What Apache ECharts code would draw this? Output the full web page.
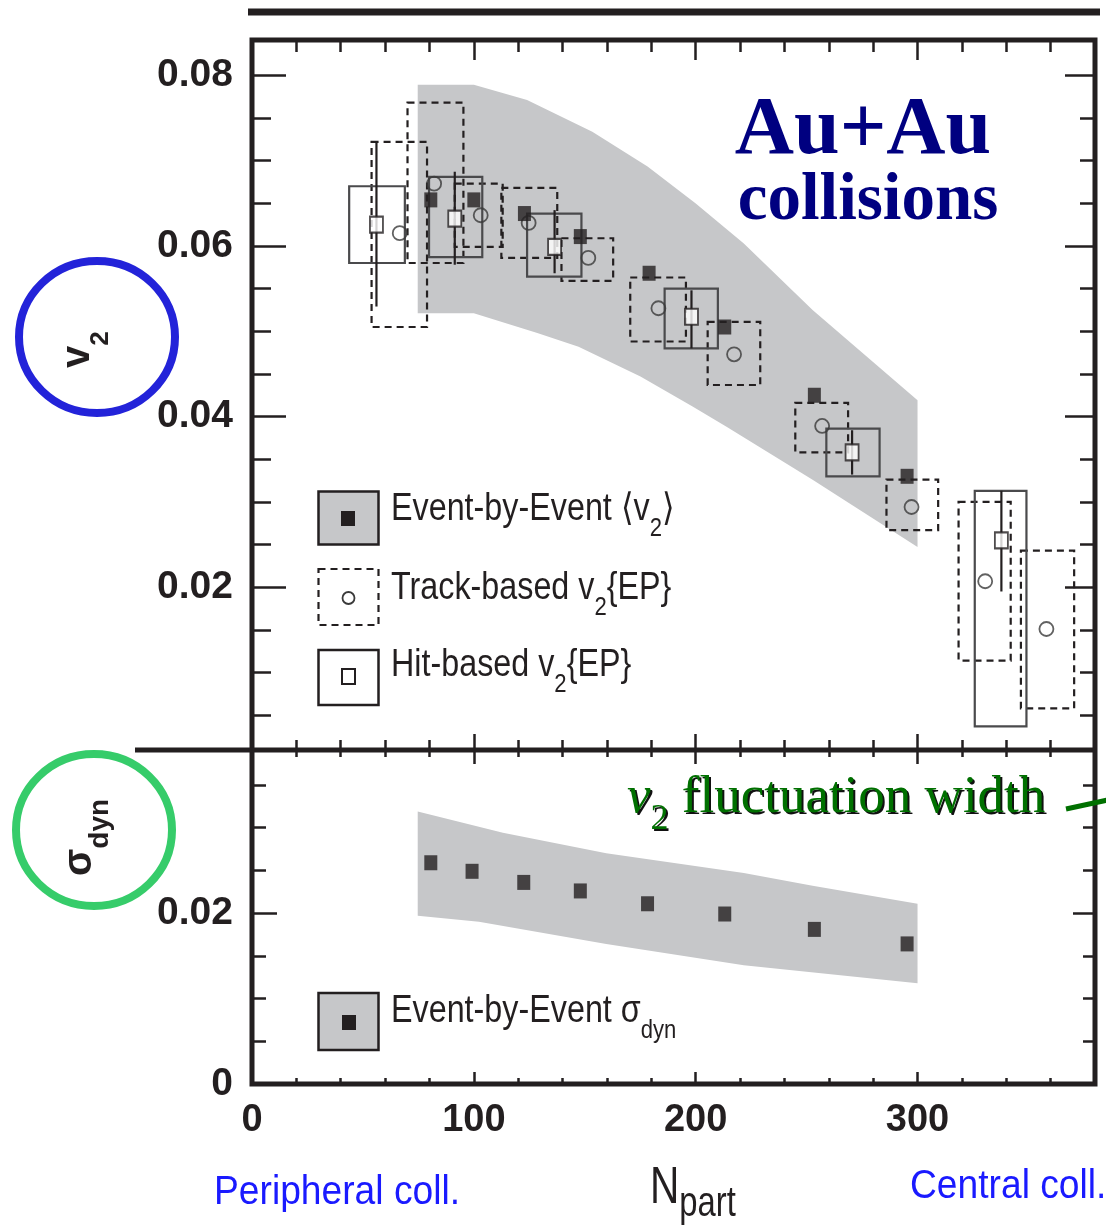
<!DOCTYPE html>
<html>
<head>
<meta charset="utf-8">
<title>v2 and sigma_dyn vs Npart</title>
<script src="https://cdn.jsdelivr.net/npm/echarts@6/dist/echarts.min.js"></script>
<style>
  html, body { margin: 0; padding: 0; background: #fff; }
  #main { width: 1106px; height: 1228px; }
</style>
</head>
<body>
<div id="main"></div>
<script>
// ---- axes ----
const xMin = 0, xMax = 380;
const nTickLabels = ['0', '100', '200', '300'];
const v2Min = 0.00092, v2Max = 0.08414;
const v2TickLabels = ['0.02', '0.04', '0.06', '0.08'];
const sgMin = 0, sgMax = 0.0391;
const sgTickLabels = ['0', '0.02'];

// ---- Event-by-Event <v2> ----
const ebeN  = [80.6, 100.0, 122.8, 148.0, 179.0, 213.1, 253.5, 295.3];
const ebeV2 = [0.0654, 0.0654, 0.0638, 0.0611, 0.0568, 0.0505, 0.0425, 0.0330];
// systematic band of <v2>: upper and lower edge
const bandUpN = [74.7, 100.0, 124.0, 153.4, 178.3, 199.9, 221.7, 252.7, 300.0];
const bandUpV = [0.0789, 0.0789, 0.0771, 0.0734, 0.0693, 0.0650, 0.0603, 0.0525, 0.0419];
const bandLoN = [74.7, 100.0, 128.6, 147.2, 175.1, 198.4, 213.9, 252.7, 300.0];
const bandLoV = [0.0521, 0.0521, 0.0498, 0.0482, 0.0447, 0.0412, 0.0388, 0.0326, 0.0247];

// ---- Track-based v2{EP} ----
const trackN     = [66.6, 82.1, 103.1, 124.7, 151.6, 183.2, 217.3, 257.0, 297.3, 330.5, 358.1];
const trackV2    = [0.0615, 0.0673, 0.0636, 0.0627, 0.0586, 0.0527, 0.0473, 0.0389, 0.0294, 0.0207, 0.0151];
const trackNLo   = [53.9, 70.1, 91.4, 112.4, 139.5, 170.5, 205.4, 244.9, 286.0, 318.5, 346.6];
const trackNHi   = [78.9, 95.3, 113.0, 137.6, 162.8, 195.6, 229.1, 268.7, 309.3, 342.0, 370.6];
const trackSysHi = [0.0722, 0.0768, 0.0673, 0.0668, 0.0609, 0.0563, 0.0511, 0.0416, 0.0326, 0.0300, 0.0243];
const trackSysLo = [0.0505, 0.0580, 0.0599, 0.0586, 0.0559, 0.0488, 0.0437, 0.0358, 0.0267, 0.0114, 0.0058];

// ---- Hit-based v2{EP} ----
const hitN     = [56.1, 91.4, 136.4, 198.1, 270.5, 337.8];
const hitV2    = [0.0625, 0.0632, 0.0599, 0.0517, 0.0358, 0.0255];
const hitErrHi = [0.0722, 0.0687, 0.0642, 0.0548, 0.0384, 0.0313];
const hitErrLo = [0.0529, 0.0578, 0.0568, 0.0480, 0.0332, 0.0195];
const hitNLo   = [43.8, 79.8, 124.0, 186.0, 258.9, 325.8];
const hitNHi   = [68.9, 103.8, 148.5, 210.0, 282.9, 349.1];
const hitSysHi = [0.0670, 0.0681, 0.0638, 0.0550, 0.0386, 0.0313];
const hitSysLo = [0.0580, 0.0587, 0.0564, 0.0480, 0.0330, 0.0037];

// ---- Event-by-Event sigma_dyn ----
const sigN   = [80.6, 99.2, 122.5, 148.0, 178.3, 213.1, 253.5, 295.3];
const sigDyn = [0.0259, 0.0249, 0.0236, 0.0226, 0.0211, 0.0199, 0.0181, 0.0164];
const sigBandUpN = [74.7, 113.1, 159.7, 221.7, 252.7, 300.0];
const sigBandUpV = [0.0319, 0.0294, 0.0270, 0.0247, 0.0232, 0.0211];
const sigBandLoN = [74.7, 102.3, 159.7, 221.7, 300.0];
const sigBandLoV = [0.0197, 0.0190, 0.0164, 0.0139, 0.0118];

// ---- layout ----
const L = 252, R = 1095, T = 40, MID = 750, B = 1084;
const FG = '#231f20';
const BAND = '#c6c7c9';
const SANS = '"Liberation Sans", Arial, sans-serif';
const SERIF = '"Liberation Serif", "Times New Roman", serif';

const chart = echarts.init(document.getElementById('main'));

function fmtVal(v) {
  if (Math.abs(v) < 1e-9) return '0';
  if (Math.abs(v) >= 1) return String(Math.round(v));
  return v.toFixed(2);
}
function labelFrom(list) {
  return v => { const s = fmtVal(v); return list.includes(s) ? s : ''; };
}

function xAx(grid, pos, step, len, labels) {
  return {
    type: 'value', gridIndex: grid, position: pos, min: xMin, max: xMax, interval: step,
    axisLine: { show: false, onZero: false },
    axisTick: { inside: true, length: len, lineStyle: { color: FG, width: 2.5 } },
    axisLabel: labels ? { show: true, margin: 18, formatter: labelFrom(labels), color: FG,
      fontSize: 38, fontWeight: 'bold', fontFamily: SANS } : { show: false },
    splitLine: { show: false }
  };
}
function yAx(grid, pos, min, max, step, len, labels) {
  return {
    type: 'value', gridIndex: grid, position: pos, min: min, max: max,
    minInterval: step, maxInterval: step, splitNumber: Math.round((max - min) / step),
    axisLine: { show: false, onZero: false },
    axisTick: { inside: true, length: len, lineStyle: { color: FG, width: 2.5 } },
    axisLabel: labels ? { show: true, margin: 19, formatter: labelFrom(labels), color: FG,
      fontSize: 39, fontWeight: 'bold', fontFamily: SANS } : { show: false },
    splitLine: { show: false }
  };
}

function bandRender(upN, upV, loN, loV) {
  return function (params, api) {
    if (params.dataIndex !== 0) return;
    const pts = [];
    for (let i = 0; i < upN.length; i++) pts.push(api.coord([upN[i], upV[i]]));
    for (let i = loN.length - 1; i >= 0; i--) pts.push(api.coord([loN[i], loV[i]]));
    return { type: 'polygon', shape: { points: pts }, style: { fill: BAND } };
  };
}
function boxRender(color, dash) {
  return function (params, api) {
    const a = api.coord([api.value(0), api.value(3)]);
    const b = api.coord([api.value(1), api.value(2)]);
    return { type: 'rect', shape: { x: a[0], y: a[1], width: b[0] - a[0], height: b[1] - a[1] },
      style: { fill: 'none', stroke: color, lineWidth: 2.2, lineDash: dash } };
  };
}
function errRender(params, api) {
  const a = api.coord([api.value(0), api.value(1)]);
  const b = api.coord([api.value(0), api.value(2)]);
  return { type: 'line', shape: { x1: a[0], y1: a[1], x2: b[0], y2: b[1] },
    style: { stroke: FG, lineWidth: 2.2 } };
}

const sub = (size, pad, extra) => Object.assign({ fontSize: size, lineHeight: size, padding: [pad, 0, 0, 0],
  verticalAlign: 'top', fontFamily: SANS, fill: FG }, extra || {});
const main = (size, extra) => Object.assign({ fontSize: size, lineHeight: size, verticalAlign: 'top',
  fontFamily: SANS, fill: FG }, extra || {});

// legend label: main text and subscript centred on one line, baseline given
function legendText(baseline, text) {
  return { type: 'text', x: 391, y: baseline - 13.3, scaleX: 0.85, z: 20,
    style: { text: text, textVerticalAlign: 'middle', fontSize: 38, lineHeight: 38,
      fontFamily: SANS, fill: FG,
      rich: { m: { fontSize: 38, lineHeight: 38, fontFamily: SANS, fill: FG },
              s: { fontSize: 26, lineHeight: 26, padding: [38, 0, 0, 0], fontFamily: SANS, fill: FG } } } };
}

const option = {
  animation: false,
  backgroundColor: '#fff',
  grid: [
    { left: L, top: T, width: R - L, height: MID - T },
    { left: L, top: MID, width: R - L, height: B - MID }
  ],
  xAxis: [
    xAx(0, 'bottom', 100, 16), xAx(0, 'bottom', 20, 10),
    xAx(0, 'top', 100, 20), xAx(0, 'top', 20, 12),
    xAx(1, 'bottom', 100, 12, nTickLabels), xAx(1, 'bottom', 20, 6),
    xAx(1, 'top', 100, 14), xAx(1, 'top', 20, 7)
  ],
  yAxis: [
    yAx(0, 'left', v2Min, v2Max, 0.02, 34, v2TickLabels), yAx(0, 'left', v2Min, v2Max, 0.005, 19),
    yAx(0, 'right', v2Min, v2Max, 0.02, 30), yAx(0, 'right', v2Min, v2Max, 0.005, 15),
    yAx(1, 'left', sgMin, sgMax, 0.02, 25, sgTickLabels), yAx(1, 'left', sgMin, sgMax, 0.005, 14),
    yAx(1, 'right', sgMin, sgMax, 0.02, 22), yAx(1, 'right', sgMin, sgMax, 0.005, 12)
  ],
  series: [
    { type: 'custom', xAxisIndex: 0, yAxisIndex: 0, z: 1,
      renderItem: bandRender(bandUpN, bandUpV, bandLoN, bandLoV), data: [[bandUpN[0], bandUpV[0]]] },
    { type: 'custom', xAxisIndex: 0, yAxisIndex: 0, z: 3, renderItem: boxRender(FG, [7, 5]),
      encode: { x: [0, 1], y: [2, 3] },
      data: trackN.map((n, i) => [trackNLo[i], trackNHi[i], trackSysLo[i], trackSysHi[i]]) },
    { type: 'custom', xAxisIndex: 0, yAxisIndex: 0, z: 3, renderItem: boxRender('#4a4a4c', null),
      encode: { x: [0, 1], y: [2, 3] },
      data: hitN.map((n, i) => [hitNLo[i], hitNHi[i], hitSysLo[i], hitSysHi[i]]) },
    { type: 'custom', xAxisIndex: 0, yAxisIndex: 0, z: 4, renderItem: errRender,
      encode: { x: 0, y: [1, 2] },
      data: hitN.map((n, i) => [n, hitErrLo[i], hitErrHi[i]]) },
    { type: 'scatter', xAxisIndex: 0, yAxisIndex: 0, z: 5, symbol: 'circle', symbolSize: 14,
      itemStyle: { color: 'rgba(0,0,0,0)', borderColor: '#3a3a3a', borderWidth: 1.8 },
      data: trackN.map((n, i) => [n, trackV2[i]]) },
    { type: 'scatter', xAxisIndex: 0, yAxisIndex: 0, z: 6, symbol: 'rect', symbolSize: [13, 16],
      itemStyle: { color: '#fff', borderColor: FG, borderWidth: 2 },
      data: hitN.map((n, i) => [n, hitV2[i]]) },
    { type: 'scatter', xAxisIndex: 0, yAxisIndex: 0, z: 7, symbol: 'rect', symbolSize: [13, 15],
      itemStyle: { color: FG },
      data: ebeN.map((n, i) => [n, ebeV2[i]]) },
    { type: 'custom', xAxisIndex: 4, yAxisIndex: 4, z: 1,
      renderItem: bandRender(sigBandUpN, sigBandUpV, sigBandLoN, sigBandLoV), data: [[sigBandUpN[0], sigBandUpV[0]]] },
    { type: 'scatter', xAxisIndex: 4, yAxisIndex: 4, z: 7, symbol: 'rect', symbolSize: [13, 15],
      itemStyle: { color: FG },
      data: sigN.map((n, i) => [n, sigDyn[i]]) }
  ],
  graphic: { elements: [
    // frame and separators
    { type: 'rect', z: 10, shape: { x: L, y: T, width: R - L, height: B - T },
      style: { fill: 'none', stroke: FG, lineWidth: 5 } },
    { type: 'line', z: 10, shape: { x1: 135, y1: MID, x2: R, y2: MID }, style: { stroke: FG, lineWidth: 5 } },
    { type: 'line', z: 10, shape: { x1: 248, y1: 12, x2: 1100, y2: 12 }, style: { stroke: FG, lineWidth: 7 } },

    // legend, top panel
    { type: 'rect', z: 20, shape: { x: 318.5, y: 491.5, width: 60, height: 53 },
      style: { fill: BAND, stroke: FG, lineWidth: 2.5 } },
    { type: 'rect', z: 21, shape: { x: 341, y: 511, width: 14, height: 15 }, style: { fill: FG } },
    legendText(523, '{m|Event-by-Event \u27e8v}{s|2}{m|\u27e9}'),
    { type: 'rect', z: 20, shape: { x: 318.5, y: 569, width: 60, height: 56 },
      style: { fill: 'none', stroke: FG, lineWidth: 2.2, lineDash: [7, 5] } },
    { type: 'circle', z: 21, shape: { cx: 348.5, cy: 598, r: 6 },
      style: { fill: 'none', stroke: '#3a3a3a', lineWidth: 1.8 } },
    legendText(602, '{m|Track-based v}{s|2}{m|{EP}}'),
    { type: 'rect', z: 20, shape: { x: 318.5, y: 650, width: 60, height: 55 },
      style: { fill: 'none', stroke: FG, lineWidth: 2.5 } },
    { type: 'rect', z: 21, shape: { x: 342, y: 669, width: 13, height: 15 },
      style: { fill: '#fff', stroke: FG, lineWidth: 2 } },
    legendText(679, '{m|Hit-based v}{s|2}{m|{EP}}'),

    // legend, bottom panel
    { type: 'rect', z: 20, shape: { x: 318.5, y: 993, width: 60, height: 57 },
      style: { fill: BAND, stroke: FG, lineWidth: 2.5 } },
    { type: 'rect', z: 21, shape: { x: 342, y: 1015, width: 14, height: 15 }, style: { fill: FG } },
    legendText(1025, '{m|Event-by-Event \u03c3}{s|dyn}'),

    // Au+Au collisions
    { type: 'text', z: 20, x: 863, y: 132,
      style: { text: 'Au+Au', textAlign: 'center', textVerticalAlign: 'middle',
        font: 'bold 82px ' + SERIF, fill: '#000080' } },
    { type: 'text', z: 20, x: 868, y: 202,
      style: { text: 'collisions', textAlign: 'center', textVerticalAlign: 'middle',
        font: 'bold 67px ' + SERIF, fill: '#000080' } },

    // v2 fluctuation width (shadow + text)
    { type: 'text', z: 20, x: 629, y: 774,
      style: { text: '{i|v}{s|2}{m| fluctuation width}', textVerticalAlign: 'top',
        rich: { i: main(53, { fontFamily: SERIF, fontStyle: 'italic', fill: '#111' }),
                s: sub(36, 30, { fontFamily: SERIF, fill: '#111' }),
                m: main(53, { fontFamily: SERIF, fill: '#111' }) } } },
    { type: 'text', z: 21, x: 627, y: 772,
      style: { text: '{i|v}{s|2}{m| fluctuation width}', textVerticalAlign: 'top',
        rich: { i: main(53, { fontFamily: SERIF, fontStyle: 'italic', fill: '#007000' }),
                s: sub(36, 30, { fontFamily: SERIF, fill: '#007000' }),
                m: main(53, { fontFamily: SERIF, fill: '#007000' }) } } },
    { type: 'line', z: 20, shape: { x1: 1066, y1: 809, x2: 1108, y2: 800 },
      style: { stroke: '#007000', lineWidth: 5 } },

    // axis titles in circles
    { type: 'ellipse', z: 20, shape: { cx: 97, cy: 337, rx: 78, ry: 76 },
      style: { fill: 'none', stroke: '#2323d9', lineWidth: 8 } },
    { type: 'text', z: 21, x: 58, y: 368, rotation: Math.PI / 2,
      style: { text: '{m|v}{s|2}', textVerticalAlign: 'top',
        rich: { m: main(40, { fontWeight: 'bold' }), s: sub(26, 30, { fontWeight: 'bold' }) } } },
    { type: 'ellipse', z: 20, shape: { cx: 94, cy: 830, rx: 78, ry: 76 },
      style: { fill: 'none', stroke: '#36cc6a', lineWidth: 8 } },
    { type: 'text', z: 21, x: 60, y: 876, rotation: Math.PI / 2,
      style: { text: '{m|\u03c3}{s|dyn}', textVerticalAlign: 'top',
        rich: { m: main(40, { fontWeight: 'bold' }), s: sub(28, 26, { fontWeight: 'bold' }) } } },

    // x axis title and annotations
    { type: 'text', z: 20, x: 650, y: 1163, scaleX: 0.78,
      style: { text: '{n|N}{p|part}', textVerticalAlign: 'top',
        rich: { n: main(52), p: sub(42, 20) } } },
    { type: 'text', z: 20, x: 214, y: 1193, scaleX: 0.93,
      style: { text: 'Peripheral coll.', textVerticalAlign: 'middle', font: '40px ' + SANS, fill: '#1a1aff' } },
    { type: 'text', z: 20, x: 910, y: 1187, scaleX: 0.93,
      style: { text: 'Central coll.', textVerticalAlign: 'middle', font: '40px ' + SANS, fill: '#1a1aff' } }
  ] }
};

chart.setOption(option);
</script>
</body>
</html>
